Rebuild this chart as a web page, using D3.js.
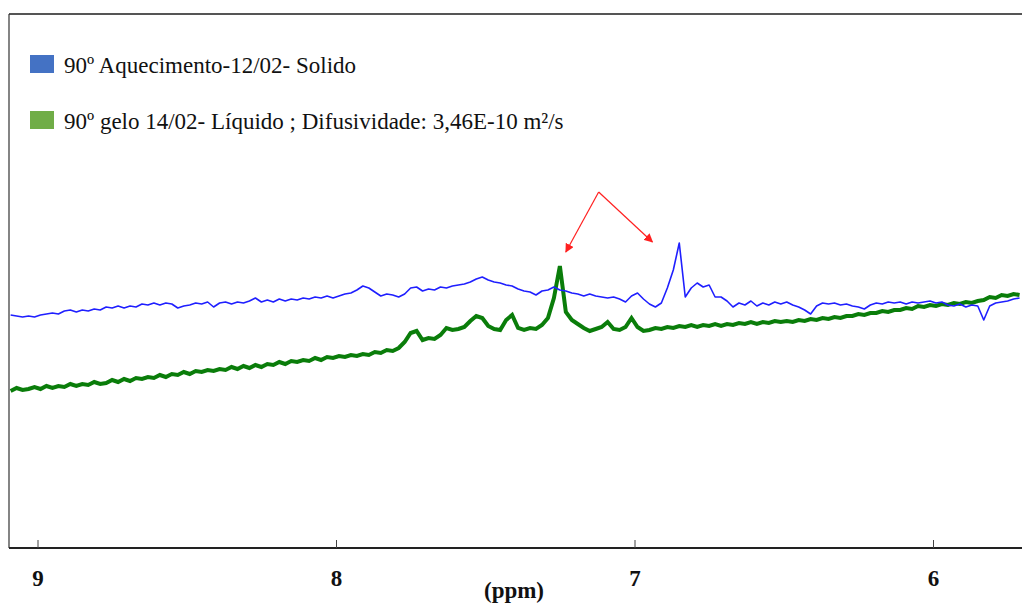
<!DOCTYPE html>
<html>
<head>
<meta charset="utf-8">
<script src="https://cdn.jsdelivr.net/npm/d3@7"></script>
<style>
  body { margin: 0; background: #fff; }
  svg { display: block; }
</style>
</head>
<body>
<svg id="chart"></svg>
<script>
const width = 1022;
const height = 603;

// chemical shift grid (ppm), shared by both spectra
const ppm = [
  9.09, 9.07, 9.05, 9.03, 9.01, 8.99, 8.97, 8.95, 8.93, 8.91,
  8.89, 8.87, 8.85, 8.83, 8.81, 8.79, 8.77, 8.75, 8.73, 8.71,
  8.69, 8.67, 8.65, 8.63, 8.61, 8.59, 8.57, 8.55, 8.53, 8.51,
  8.49, 8.47, 8.45, 8.43, 8.41, 8.39, 8.37, 8.35, 8.33, 8.31,
  8.29, 8.27, 8.25, 8.23, 8.21, 8.19, 8.17, 8.15, 8.13, 8.11,
  8.09, 8.07, 8.05, 8.03, 8.01, 7.99, 7.97, 7.95, 7.93, 7.91,
  7.89, 7.87, 7.85, 7.83, 7.81, 7.79, 7.77, 7.75, 7.73, 7.71,
  7.69, 7.67, 7.65, 7.63, 7.61, 7.59, 7.57, 7.55, 7.53, 7.51,
  7.49, 7.47, 7.45, 7.43, 7.41, 7.39, 7.37, 7.35, 7.33, 7.31,
  7.29, 7.27, 7.25, 7.23, 7.21, 7.19, 7.17, 7.15, 7.13, 7.11,
  7.09, 7.07, 7.05, 7.03, 7.01, 6.99, 6.97, 6.95, 6.93, 6.91,
  6.89, 6.87, 6.85, 6.83, 6.81, 6.79, 6.77, 6.75, 6.73, 6.71,
  6.69, 6.67, 6.65, 6.63, 6.61, 6.59, 6.57, 6.55, 6.53, 6.51,
  6.49, 6.47, 6.45, 6.43, 6.41, 6.39, 6.37, 6.35, 6.33, 6.31,
  6.29, 6.27, 6.25, 6.23, 6.21, 6.19, 6.17, 6.15, 6.13, 6.11,
  6.09, 6.07, 6.05, 6.03, 6.01, 5.99, 5.97, 5.95, 5.93, 5.91,
  5.89, 5.87, 5.85, 5.83, 5.81, 5.79, 5.77, 5.75, 5.73, 5.71
];

// 90º Aquecimento-12/02- Solido (a.u.)
const solido = [
  233, 232, 231, 232, 231, 233, 234, 235, 234, 237,
  238, 236, 238, 237, 239, 238, 241, 240, 242, 240,
  242, 241, 244, 243, 245, 243, 245, 244, 240, 242,
  243, 245, 244, 246, 241, 245, 246, 244, 246, 245,
  247, 250, 246, 248, 246, 249, 247, 249, 248, 250,
  249, 251, 250, 252, 250, 252, 254, 255, 258, 262,
  260, 256, 252, 254, 253, 251, 254, 260, 261, 257,
  259, 258, 261, 260, 262, 263, 264, 266, 269, 271,
  268, 266, 265, 263, 262, 259, 257, 256, 253, 257,
  258, 261, 258, 257, 255, 254, 252, 254, 252, 251,
  250, 251, 249, 246, 252, 255, 249, 244, 241, 245,
  260, 278, 305, 251, 260, 265, 261, 263, 251, 251,
  247, 241, 245, 243, 247, 242, 245, 243, 246, 244,
  246, 243, 241, 238, 234, 242, 245, 244, 245, 243,
  244, 242, 241, 239, 243, 245, 244, 246, 245, 246,
  244, 246, 245, 246, 247, 245, 246, 243, 242, 244,
  241, 243, 242, 228, 242, 245, 246, 247, 249, 250
];

// 90º gelo 14/02- Líquido (a.u.)
const liquido = [
  157, 160, 158, 159, 161, 159, 162, 160, 162, 161,
  164, 162, 164, 163, 166, 164, 165, 168, 166, 169,
  167, 170, 169, 171, 170, 173, 171, 174, 173, 176,
  174, 177, 176, 178, 177, 179, 178, 181, 179, 182,
  180, 183, 181, 184, 183, 186, 184, 187, 186, 188,
  187, 190, 188, 191, 190, 192, 191, 193, 192, 194,
  193, 196, 195, 198, 197, 200, 206, 215, 217, 208,
  210, 209, 213, 220, 218, 219, 221, 227, 232, 230,
  222, 219, 218, 228, 233, 220, 218, 220, 219, 223,
  230, 250, 282, 236, 228, 224, 220, 217, 219, 221,
  226, 219, 218, 221, 230, 221, 217, 218, 220, 219,
  221, 220, 222, 221, 223, 221, 223, 222, 224, 222,
  224, 223, 225, 224, 226, 224, 226, 225, 227, 226,
  227, 226, 228, 227, 229, 228, 230, 229, 231, 230,
  232, 232, 234, 233, 235, 235, 237, 236, 238, 238,
  240, 239, 242, 241, 243, 242, 244, 243, 245, 244,
  246, 245, 247, 248, 251, 250, 253, 252, 254, 253
];

const xTicks = [9, 8, 7, 6];
const legendLabels = [
  "90º Aquecimento-12/02- Solido",
  "90º gelo 14/02- Líquido ; Difusividade: 3,46E-10 m²/s"
];
const legendColors = ["#4472c4", "#70ad47"];
const lineColors = ["#1f1fff", "#0a7d0a"];

// arrow annotation: tail and two heads, in (ppm, a.u.)
const arrowTail = [7.12, 356];
const arrowHeads = [[7.23, 296], [6.94, 306]];

const serif = "'Liberation Serif', 'Times New Roman', 'DejaVu Serif', serif";
const plot = { left: 9, top: 14, right: 1022, bottom: 548 };

const svg = d3.select("#chart")
  .attr("width", width)
  .attr("height", height);

const x = d3.scaleLinear()
  .domain([9, 6])
  .range([37.5, 933]);

const y = d3.scaleLinear()
  .domain([0, 534])
  .range([plot.bottom, plot.top]);

const defs = svg.append("defs");

defs.append("clipPath")
  .attr("id", "clip")
  .append("rect")
  .attr("x", plot.left)
  .attr("y", plot.top)
  .attr("width", plot.right - plot.left)
  .attr("height", plot.bottom - plot.top);

defs.append("marker")
  .attr("id", "head")
  .attr("viewBox", "0 0 10 10")
  .attr("refX", 9)
  .attr("refY", 5)
  .attr("markerWidth", 9)
  .attr("markerHeight", 9)
  .attr("markerUnits", "userSpaceOnUse")
  .attr("orient", "auto")
  .append("path")
  .attr("d", "M0,0 L10,5 L0,10 z")
  .attr("fill", "#ff2020");

// frame
svg.append("line")
  .attr("x1", plot.left).attr("x2", plot.right)
  .attr("y1", plot.top).attr("y2", plot.top)
  .attr("stroke", "#555").attr("stroke-width", 2);
svg.append("line")
  .attr("x1", plot.left).attr("x2", plot.left)
  .attr("y1", plot.top).attr("y2", plot.bottom)
  .attr("stroke", "#333").attr("stroke-width", 1.2);

const lines = svg.append("g").attr("clip-path", "url(#clip)");

const line = d3.line()
  .x((d, i) => x(ppm[i]))
  .y(d => y(d));

lines.append("path")
  .datum(liquido)
  .attr("d", line)
  .attr("fill", "none")
  .attr("stroke", lineColors[1])
  .attr("stroke-width", 4)
  .attr("stroke-linejoin", "miter");

lines.append("path")
  .datum(solido)
  .attr("d", line)
  .attr("fill", "none")
  .attr("stroke", lineColors[0])
  .attr("stroke-width", 1.6)
  .attr("stroke-linejoin", "round");

// x axis
const xAxis = svg.append("g")
  .attr("transform", `translate(0,${plot.bottom})`)
  .call(d3.axisBottom(x).tickValues(xTicks).tickSize(-8).tickPadding(22).tickFormat(d3.format("d")));

xAxis.select(".domain")
  .attr("d", `M${plot.left},0H${plot.right}`)
  .attr("stroke", "#222")
  .attr("stroke-width", 2);
xAxis.selectAll(".tick line").attr("stroke", "#444");
xAxis.selectAll(".tick text")
  .attr("font-family", serif)
  .attr("font-weight", "bold")
  .attr("font-size", 23)
  .attr("fill", "#111");

svg.append("text")
  .attr("x", 514)
  .attr("y", 598)
  .attr("text-anchor", "middle")
  .attr("font-family", serif)
  .attr("font-weight", "bold")
  .attr("font-size", 23)
  .attr("fill", "#111")
  .text("(ppm)");

// legend
const legend = svg.append("g")
  .selectAll("g")
  .data(legendLabels)
  .enter().append("g")
  .attr("transform", (d, i) => `translate(30,${55 + i * 56})`);

legend.append("rect")
  .attr("width", 24)
  .attr("height", 18)
  .attr("fill", (d, i) => legendColors[i]);

legend.append("text")
  .attr("x", 34)
  .attr("y", 18)
  .attr("font-family", serif)
  .attr("font-size", 23)
  .attr("fill", "#111")
  .text(d => d);

// red arrows
svg.append("g")
  .selectAll("line")
  .data(arrowHeads)
  .enter().append("line")
  .attr("x1", x(arrowTail[0]))
  .attr("y1", y(arrowTail[1]))
  .attr("x2", d => x(d[0]))
  .attr("y2", d => y(d[1]))
  .attr("stroke", "#ff2020")
  .attr("stroke-width", 1.2)
  .attr("marker-end", "url(#head)");
</script>
</body>
</html>
